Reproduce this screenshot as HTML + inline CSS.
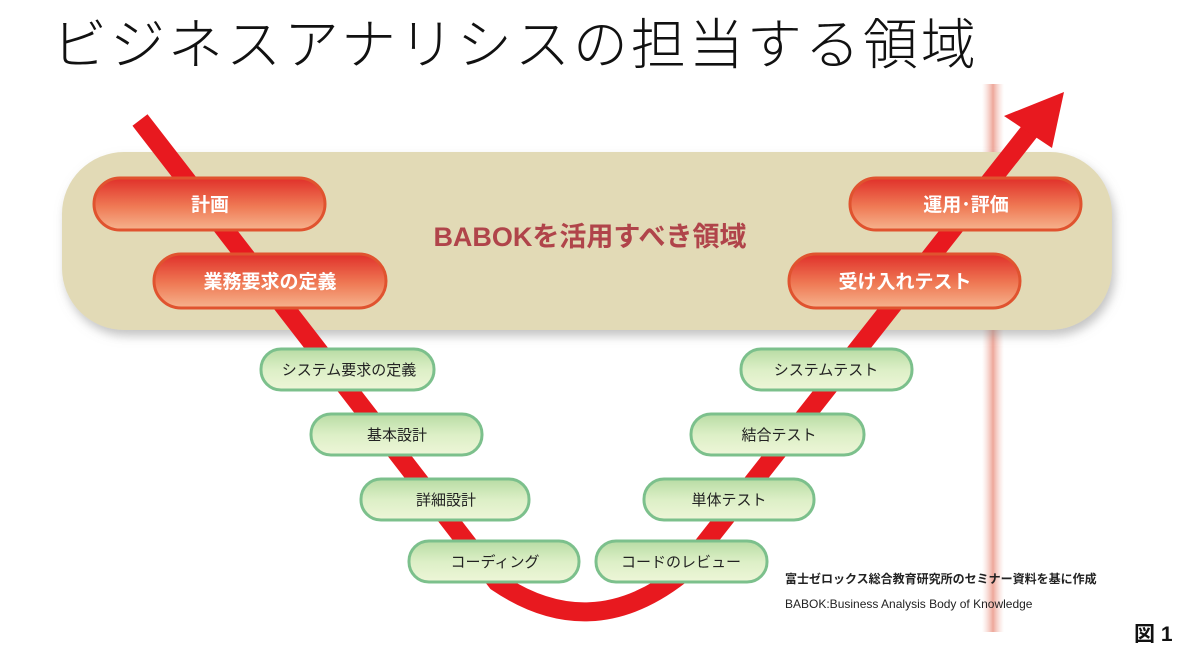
<!DOCTYPE html>
<html><head><meta charset="utf-8"><style>
html,body{margin:0;padding:0;background:#fff;width:1200px;height:661px;overflow:hidden}
svg{display:block}
.t{font-family:"Liberation Sans","Noto Sans CJK JP",sans-serif}
</style></head><body>
<svg width="1200" height="661" viewBox="0 0 1200 661" class="t">
<defs>
<linearGradient id="red" x1="0" y1="0" x2="0" y2="1">
<stop offset="0" stop-color="#e0302a"/><stop offset="0.55" stop-color="#ef7a55"/><stop offset="1" stop-color="#f6b38e"/></linearGradient>
<linearGradient id="grn" x1="0" y1="0" x2="0" y2="1">
<stop offset="0" stop-color="#b8dca4"/><stop offset="0.5" stop-color="#dcefc6"/><stop offset="1" stop-color="#eef6d8"/></linearGradient>
<linearGradient id="band" x1="0" y1="0" x2="1" y2="0">
<stop offset="0" stop-color="#f6d0c8" stop-opacity="0"/><stop offset="0.5" stop-color="#eea79a"/><stop offset="1" stop-color="#f6d0c8" stop-opacity="0"/></linearGradient>
<filter id="sh" x="-10%" y="-20%" width="120%" height="150%"><feDropShadow dx="3" dy="6" stdDeviation="5" flood-color="#888" flood-opacity="0.5"/></filter>
</defs>
<text x="52" y="64" font-size="55" font-weight="300" letter-spacing="3" fill="#111" font-family="'Noto Sans CJK JP',sans-serif">ビジネスアナリシスの担当する領域</text>
<rect x="982" y="84" width="22" height="548" fill="url(#band)"/>
<rect x="62" y="152" width="1050" height="178" rx="62" fill="#e2dab6" filter="url(#sh)"/>
<path d="M140 120 L497 582 Q590 645 680 575 L1040 118" fill="none" stroke="#e8191f" stroke-width="19"/>
<polygon points="1064,92 1004,116 1052,148" fill="#e8191f"/>
<text x="590" y="246" font-size="27" font-weight="bold" fill="#b0444a" text-anchor="middle">BABOKを活用すべき領域</text>
<g stroke="#e0532f" stroke-width="3">
<rect x="94" y="178" width="231" height="52" rx="26" fill="url(#red)"/>
<rect x="154" y="254" width="232" height="54" rx="27" fill="url(#red)"/>
<rect x="850" y="178" width="231" height="52" rx="26" fill="url(#red)"/>
<rect x="789" y="254" width="231" height="54" rx="27" fill="url(#red)"/>
</g>
<g font-size="19" font-weight="bold" fill="#fff" text-anchor="middle">
<text x="210" y="211">計画</text>
<text x="270" y="288">業務要求の定義</text>
<text x="966" y="211">運用･評価</text>
<text x="905" y="288">受け入れテスト</text>
</g>
<g stroke="#7cc08c" stroke-width="3" fill="url(#grn)">
<rect x="261" y="349" width="173" height="41" rx="20"/>
<rect x="311" y="414" width="171" height="41" rx="20"/>
<rect x="361" y="479" width="168" height="41" rx="20"/>
<rect x="409" y="541" width="170" height="41" rx="20"/>
<rect x="741" y="349" width="171" height="41" rx="20"/>
<rect x="691" y="414" width="173" height="41" rx="20"/>
<rect x="644" y="479" width="170" height="41" rx="20"/>
<rect x="596" y="541" width="171" height="41" rx="20"/>
</g>
<g font-size="15" fill="#222" text-anchor="middle">
<text x="349" y="375">システム要求の定義</text>
<text x="397" y="440">基本設計</text>
<text x="446" y="505">詳細設計</text>
<text x="495" y="567">コーディング</text>
<text x="826" y="375">システムテスト</text>
<text x="779" y="440">結合テスト</text>
<text x="729" y="505">単体テスト</text>
<text x="681" y="567">コードのレビュー</text>
</g>
<text x="785" y="583" font-size="12" font-weight="bold" fill="#222">富士ゼロックス総合教育研究所のセミナー資料を基に作成</text>
<text x="785" y="608" font-size="12" fill="#222">BABOK:Business Analysis Body of Knowledge</text>
<text x="1134" y="641" font-size="21" font-weight="bold" fill="#111">図 1</text>
</svg>
</body></html>
